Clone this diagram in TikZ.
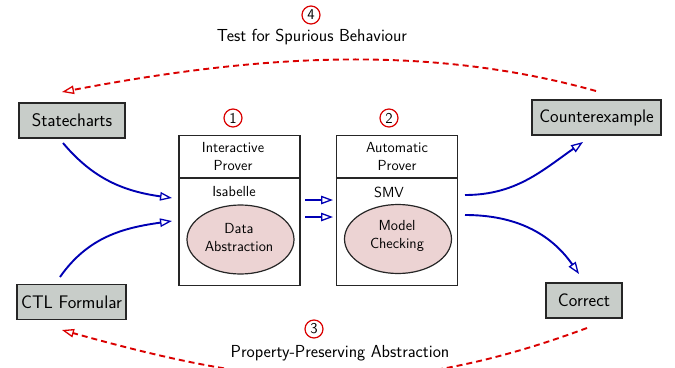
\documentclass[tikz,border=0pt]{standalone}
\usetikzlibrary{arrows.meta,shapes.geometric,calc}
\definecolor{boxgray}{RGB}{200,205,201}
\definecolor{ovalpink}{RGB}{236,211,211}
\definecolor{flowblue}{RGB}{0,0,180}
\definecolor{loopred}{RGB}{218,0,0}
\begin{document}
\begin{tikzpicture}[x=1pt,y=-1pt,
  font=\sffamily,
  termbox/.style={draw=black!85,line width=1.5pt,fill=boxgray,minimum height=35pt,
    inner sep=0pt,font=\sffamily\fontsize{18.2}{21}\selectfont},
  toolbox/.style={draw=black!85,line width=1.3pt,fill=white},
  oval/.style={ellipse,draw=black!85,line width=1.2pt,fill=ovalpink,
    minimum width=107pt,minimum height=69pt,inner sep=0pt},
  small/.style={font=\sffamily\fontsize{14.6}{18}\selectfont,align=center,inner sep=0pt},
  stepnum/.style={circle,draw=loopred,line width=1.2pt,minimum size=18pt,inner sep=0pt,
    font=\sffamily\fontsize{15}{16}\selectfont},
  flow/.style={draw=flowblue,line width=1.9pt,-{Triangle[open,length=12pt,width=8.5pt,line width=1.3pt]}},
  loop/.style={draw=loopred,line width=1.9pt,dash pattern=on 6pt off 4pt,
    -{Triangle[open,length=12pt,width=8.5pt,line width=1.3pt]}},
  heading/.style={font=\sffamily\fontsize{17.4}{20}\selectfont,inner sep=0pt}]
\useasboundingbox (0,0) rectangle (675,367);
\clip (0,0) rectangle (675,367);

% outer terminals
\node[termbox,minimum width=106pt] (stc) at (72,120.5) {Statecharts};
\node[termbox,minimum width=109pt] (ctl) at (71.5,302) {CTL Formular};
\node[termbox,minimum width=129pt] (cex) at (596.5,117.5) {Counterexample};
\node[termbox,minimum width=76pt]  (cor) at (584,300.5) {Correct};

% interactive prover
\node[toolbox,minimum width=121pt,minimum height=150pt] (isa) at (239.5,210.5) {};
\draw[line width=1.3pt,draw=black!85] ($(isa.west)+(0,-32.5)$) coordinate (isaL) -- ($(isa.east)+(0,-32.5)$) coordinate (isaR);
\node[small] (isaT) at (233,157) {Interactive\\Prover};
\node[small] (isaN) at (234,192) {Isabelle};
\node[oval] (abs) at (240.5,239.5) {};
\node[small] (absT) at (239,238) {Data\\Abstraction};

% automatic prover
\node[toolbox,minimum width=121pt,minimum height=150pt] (smv) at (397,210.5) {};
\draw[line width=1.3pt,draw=black!85] ($(smv.west)+(0,-32.5)$) coordinate (smvL) -- ($(smv.east)+(0,-32.5)$) coordinate (smvR);
\node[small] (smvT) at (397,157) {Automatic\\Prover};
\node[small] (smvN) at (389,192) {SMV};
\node[oval] (mc) at (398,239) {};
\node[small] (mcT) at (397,236) {Model\\Checking};

% step numbers and loop captions
\node[stepnum] (n1) at (233,118) {1};
\node[stepnum] (n2) at (389,118) {2};
\node[stepnum] (n4) at (311,15) {4};
\node[stepnum] (n3) at (314,329) {3};
\node[heading] (capT) at (312,37) {Test for Spurious Behaviour};
\node[heading] (capB) at (340,353) {Property-Preserving Abstraction};

% connector end points
\coordinate (stcOut) at (63,143);
\coordinate (ctlOut) at (60,277);
\coordinate (isaIn1) at (172,198);
\coordinate (isaIn2) at (172,221);
\coordinate (isaOut1) at (305,200);
\coordinate (isaOut2) at (305,217);
\coordinate (smvIn1) at (333,200);
\coordinate (smvIn2) at (333,217);
\coordinate (smvOut1) at (465,195);
\coordinate (smvOut2) at (465,215);
\coordinate (cexIn) at (583,142);
\coordinate (corIn) at (579,274);
\coordinate (cexTop) at (596,91);
\coordinate (stcTop) at (62,92);
\coordinate (corBot) at (587,328);
\coordinate (ctlBot) at (62,330);

% blue data flow
\draw[flow] (stcOut) to[out=-50,in=172] (isaIn1);
\draw[flow] (ctlOut) to[out=55,in=188] (isaIn2);
\draw[flow] (isaOut1) -- (smvIn1);
\draw[flow] (isaOut2) -- (smvIn2);
\draw[flow] (smvOut1) to[out=0,in=-145] (cexIn);
\draw[flow] (smvOut2) to[out=0,in=125] (corIn);

% red feedback loops
\draw[loop] (cexTop) .. controls (417,41) and (242,58) .. (stcTop);
\draw[loop] (corBot) .. controls (387,402) and (263,386) .. (ctlBot);
\end{tikzpicture}
\end{document}
